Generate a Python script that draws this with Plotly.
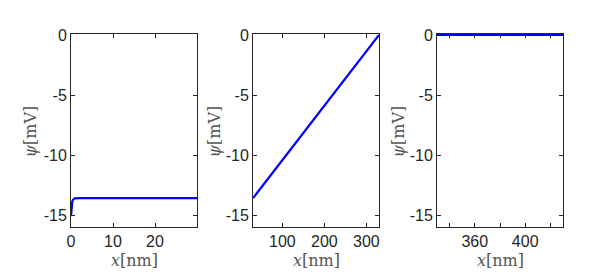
import plotly.graph_objects as go

# ---- data ----
x_left = [0, 0.05, 0.1, 0.2, 0.3, 0.4, 0.5, 0.65, 0.8, 1.0, 1.5, 2, 5, 10, 20, 30]
psi_left = [-15.1, -14.75, -14.45, -14.1, -13.9, -13.78, -13.71, -13.66, -13.63, -13.61, -13.6, -13.6, -13.6, -13.6, -13.6, -13.6]

x_mid = [30, 330]
psi_mid = [-13.6, 0.0]

x_right = [330, 430]
psi_right = [0.0, 0.0]

y_ticks = [0, -5, -10, -15]
y_ticktext = ["0", "-5", "-10", "-15"]

x1_ticks = [0, 10, 20, 30]
x1_text = ["0", "10", "20", ""]
x2_ticks = [100, 200, 300]
x2_text = ["100", "200", "300"]
x3_ticks = [340, 360, 380, 400, 420]
x3_text = ["", "360", "", "400", ""]

W, H = 590, 272
OFF = 8  # page body margin
lefts = [71 - OFF, 253 - OFF, 437 - OFF]
pw = 126
top, bottom = 34 - OFF, 227 - OFF
ytitle_x = [30 - OFF, 214 - OFF, 398 - OFF]
xtitle_y = 260 - OFF

fig = go.Figure()
series = [(x_left, psi_left), (x_mid, psi_mid), (x_right, psi_right)]
xranges = [[0, 30], [30, 330], [330, 430]]
xticks = [(x1_ticks, x1_text), (x2_ticks, x2_text), (x3_ticks, x3_text)]

axcol = "#262626"
tickfont = dict(family="Liberation Sans, Arial", size=16, color=axcol)
titlefont = dict(family="DejaVu Serif", size=16, color="#555555")

for i, (xs, ys) in enumerate(series):
    n = "" if i == 0 else str(i + 1)
    fig.add_trace(go.Scatter(x=xs, y=ys, mode="lines",
                             line=dict(color="#0000ff", width=2.2),
                             xaxis="x" + n, yaxis="y" + n, showlegend=False))
    dom_x = [lefts[i] / W, (lefts[i] + pw) / W]
    dom_y = [1 - bottom / H, 1 - top / H]
    fig.layout["xaxis" + n] = dict(
        domain=dom_x, range=xranges[i], anchor="y" + n,
        tickvals=xticks[i][0], ticktext=xticks[i][1],
        showline=True, mirror="ticks", linecolor=axcol, linewidth=1,
        ticks="inside", ticklen=4, tickcolor=axcol, tickwidth=1,
        showgrid=False, zeroline=False, tickfont=tickfont,
        automargin=False, layer="below traces",
    )
    fig.layout["yaxis" + n] = dict(
        domain=dom_y, range=[-16, 0.083], anchor="x" + n,
        tickvals=y_ticks, ticktext=y_ticktext,
        showline=True, mirror="ticks", linecolor=axcol, linewidth=1,
        ticks="inside", ticklen=4, tickcolor=axcol, tickwidth=1,
        showgrid=False, zeroline=False, tickfont=tickfont,
        automargin=False, layer="below traces",
    )
    # axis titles
    fig.add_annotation(x=ytitle_x[i] / W, y=1 - ((top + bottom) / 2 + 1) / H,
                       xref="paper", yref="paper", showarrow=False,
                       xanchor="center", yanchor="middle",
                       text="<i>ψ</i>[mV]", textangle=-90, font=titlefont)
    fig.add_annotation(x=(lefts[i] + pw / 2) / W, y=1 - xtitle_y / H,
                       xref="paper", yref="paper", showarrow=False,
                       xanchor="center", yanchor="middle",
                       text="<i>x</i>[nm]", font=titlefont)

fig.update_layout(width=W, height=H,
                  margin=dict(l=0, r=0, t=0, b=0, pad=0, autoexpand=False),
                  paper_bgcolor="white", plot_bgcolor="white")

fig.write_html("out.html")
